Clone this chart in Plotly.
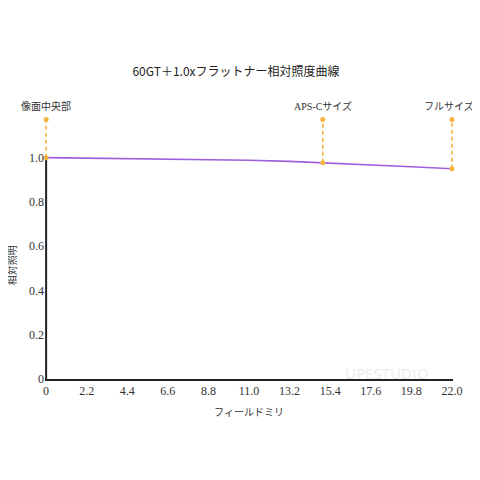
import plotly.graph_objects as go

# Data
field_mm = [0, 2.2, 4.4, 6.6, 8.8, 11.0, 13.2, 15.0, 17.6, 19.8, 22.0]
rel_illum = [1.0, 0.998, 0.996, 0.994, 0.991, 0.988, 0.983, 0.977, 0.968, 0.959, 0.950]

marker_names = ["像面中央部", "APS-Cサイズ", "フルサイズ"]
marker_x = [0, 15.0, 22.0]
marker_y = [1.0, 0.977, 0.950]
marker_top = 1.172
label_y = 1.235

xtick_vals = [0, 2.2, 4.4, 6.6, 8.8, 11.0, 13.2, 15.4, 17.6, 19.8, 22.0]
xtick_text = ["0", "2.2", "4.4", "6.6", "8.8", "11.0", "13.2", "15.4", "17.6", "19.8", "22.0"]
ytick_vals = [0, 0.2, 0.4, 0.6, 0.8, 1.0]
ytick_text = ["0", "0.2", "0.4", "0.6", "0.8", "1.0"]

serif = "Liberation Serif, Noto Sans CJK JP, serif"
orange = "#f3b53f"
purple = "#9d5fdc"

fig = go.Figure()

# y axis line only up to 1.0
fig.add_shape(type="line", xref="x", yref="y", x0=0, x1=0, y0=0, y1=1.0,
              line=dict(color="#222", width=2), layer="below")

fig.add_trace(go.Scatter(
    x=field_mm, y=rel_illum, mode="lines",
    line=dict(color=purple, width=1.6),
    cliponaxis=False, showlegend=False, hoverinfo="skip"))

shifts = [0, 0, -3]
for name, mx, my, sh in zip(marker_names, marker_x, marker_y, shifts):
    fig.add_trace(go.Scatter(
        x=[mx, mx], y=[my, marker_top], mode="lines+markers",
        line=dict(color=orange, width=1.6, dash="4px,3px"),
        marker=dict(color=orange, size=5),
        cliponaxis=False, showlegend=False, hoverinfo="skip"))
    fig.add_annotation(x=mx, y=label_y, xref="x", yref="y", text=name, xshift=sh,
                       showarrow=False, font=dict(family=serif, size=10, color="#333"))

# y axis title
fig.add_annotation(x=-0.1, y=0.407, xref="paper", yref="paper", text="相対照明",
                   textangle=-90, showarrow=False,
                   font=dict(family=serif, size=10, color="#333"))

fig.add_annotation(x=0.945, y=0.02, xref="paper", yref="paper", text="UPESTUDIO",
                   xanchor="right", yanchor="middle",
                   showarrow=False, font=dict(family="Noto Sans", size=15, color="#ececec"))

fig.update_layout(
    width=480, height=480,
    margin=dict(l=37, r=35, t=91, b=109),
    paper_bgcolor="white", plot_bgcolor="white",
    title=dict(text="60GT＋1.0xフラットナー相対照度曲線", x=228 / 480, xanchor="center",
               y=1 - 64 / 480, yanchor="middle",
               font=dict(family="Noto Sans CJK JP", size=12, color="#222")),
    xaxis=dict(range=[-0.06, 22.06], tickvals=xtick_vals, ticktext=xtick_text, automargin=False,
               showgrid=False, zeroline=False, showline=True, linecolor="#222", linewidth=2,
               ticks="", tickfont=dict(family=serif, size=12, color="#333"),
               title=dict(text="フィールドミリ", font=dict(family=serif, size=10, color="#333"),
                          standoff=12)),
    yaxis=dict(range=[0, 1.265], tickvals=ytick_vals, ticktext=ytick_text, automargin=False,
               showgrid=False, zeroline=False, showline=False,
               ticks="", tickfont=dict(family=serif, size=12, color="#333")),
)

fig.write_html("out.html")
